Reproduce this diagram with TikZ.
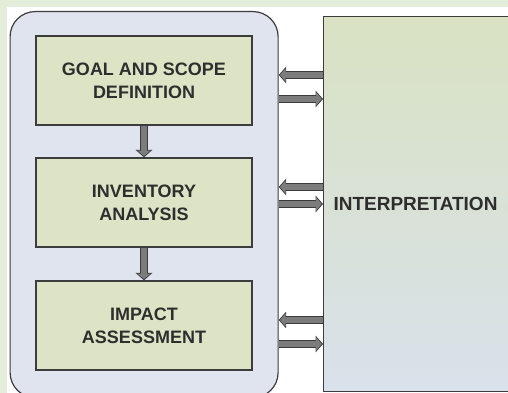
\documentclass[tikz,border=0pt]{standalone}
\usepackage{fontspec}
\setmainfont{Liberation Sans}
\usetikzlibrary{arrows.meta,calc}
\definecolor{bggreen}{HTML}{E3EDDA}
\definecolor{outerfill}{HTML}{DFE4EE}
\definecolor{boxfill}{HTML}{DDE4C6}
\definecolor{edge}{HTML}{3C3C3C}
\definecolor{txt}{HTML}{2E2E2E}
\definecolor{arrowgray}{HTML}{7C7C7C}
\definecolor{arrowdark}{HTML}{3A3A3A}
\definecolor{intertop}{HTML}{D9E2C2}
\definecolor{interbot}{HTML}{D9E1EB}
\tikzset{
  stage/.style={draw=edge, line width=1.3pt, fill=boxfill, minimum width=216pt, minimum height=89pt,
    align=center, text=txt, font=\fontsize{18}{23}\selectfont\bfseries, inner sep=0pt},
  fat/.style={line width=6pt, draw=arrowgray, -{Triangle[width=13pt,length=5.5pt]}, shorten >=1.3pt,
    preaction={draw=arrowdark, line width=8.6pt, -{Triangle[width=16.5pt,length=7.5pt]}, shorten >=0pt}},
}
\begin{document}
\begin{tikzpicture}[x=1pt,y=-1pt]
\useasboundingbox (0,0) rectangle (508,393);
\clip (0,0) rectangle (508,393);
\fill[white] (0,0) rectangle (508,393);
\fill[bggreen] (0,0) rectangle (508,7);
\fill[bggreen] (0,0) rectangle (7,393);
% outer rounded container
\node[draw=edge, line width=1.2pt, fill=outerfill, rounded corners=25pt, minimum width=268pt, minimum height=386pt, inner sep=0pt, anchor=north west] (outer) at (9.5,11) {};
% interpretation box
\node[draw=edge, line width=1.3pt, top color=intertop, bottom color=interbot, minimum width=190pt, minimum height=375pt, inner sep=0pt, anchor=north west] (interp) at (323,16) {};
\node[text=txt, font=\fontsize{19}{23}\selectfont\bfseries] (interptext) at (415.5,204) {INTERPRETATION};
% stages
\node[stage] (goal) at (144,80.5) {GOAL AND SCOPE\\DEFINITION};
\node[stage] (inv) at (144,202.5) {INVENTORY\\ANALYSIS};
\node[stage] (imp) at (144,325.5) {IMPACT\\ASSESSMENT};
% vertical arrows
\draw[fat] (goal.south) -- (inv.north);
\draw[fat] (inv.south) -- (imp.north);
% horizontal arrows
\coordinate (y1) at (0,75);
\coordinate (y2) at (0,99);
\coordinate (y3) at (0,187);
\coordinate (y4) at (0,204);
\coordinate (y5) at (0,320);
\coordinate (y6) at (0,344);
\draw[fat] (interp.west |- y1) -- (outer.east |- y1);
\draw[fat] (outer.east |- y2) -- (interp.west |- y2);
\draw[fat] (interp.west |- y3) -- (outer.east |- y3);
\draw[fat] (outer.east |- y4) -- (interp.west |- y4);
\draw[fat] (interp.west |- y5) -- (outer.east |- y5);
\draw[fat] (outer.east |- y6) -- (interp.west |- y6);
\end{tikzpicture}
\end{document}
